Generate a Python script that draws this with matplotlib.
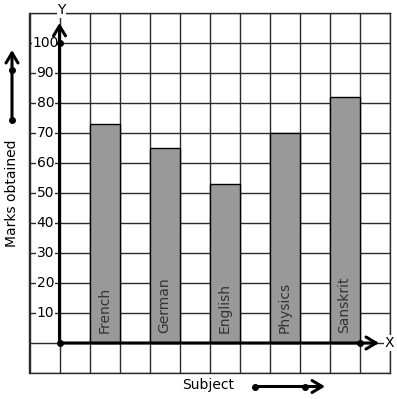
import numpy as np
import matplotlib.pyplot as plt

# data
subjects = ['French', 'German', 'English', 'Physics', 'Sanskrit']
marks = [73, 65, 53, 70, 82]
bar_pos = [1.5, 3.5, 5.5, 7.5, 9.5]
y_ticks = [10, 20, 30, 40, 50, 60, 70, 80, 90, 100]

W, H = 397, 399
ARROW = dict(arrowstyle='->, head_length=0.45, head_width=0.27', lw=2.2, color='black',
             mutation_scale=16, shrinkA=0, shrinkB=0)

fig = plt.figure(figsize=(W / 100, H / 100), dpi=100)
ax = fig.add_axes([29.5 / W, 26 / H, 360 / W, 360 / H])
ax.set_xlim(-1, 11)
ax.set_ylim(-10, 110)

# grid
ax.set_xticks(np.arange(-1, 12, 1))
ax.set_yticks(np.arange(-10, 111, 10))
ax.grid(True, color='#2a2a2a', linewidth=1)
ax.tick_params(length=0, labelbottom=False, labelleft=False)
for s in ax.spines.values():
    s.set_color('#2a2a2a')
    s.set_linewidth(1)
ax.set_axisbelow(True)

# bars
ax.bar(bar_pos, marks, width=1, color='#999999', edgecolor='black', linewidth=1, zorder=2)
for x, name in zip(bar_pos, subjects):
    ax.text(x, 3.2, name, rotation=90, ha='center', va='bottom', fontsize=10,
            color='#333333', zorder=3)

# y tick labels
for v in y_ticks:
    ax.text(-0.47, v, str(v), ha='center', va='center', fontsize=10, zorder=3,
            bbox=dict(facecolor='white', edgecolor='none', pad=0.5))

# axes with arrows
ax.annotate('', xy=(0, 106.7), xytext=(0, 0), arrowprops=ARROW, zorder=4)
ax.annotate('', xy=(10.65, 0), xytext=(0, 0), arrowprops=ARROW, zorder=4)
ax.plot([0, 0, 10], [0, 100, 0], 'o', color='black', markersize=4, zorder=5, clip_on=False)
ax.text(0.07, 111, 'Y', ha='center', va='center', fontsize=10, clip_on=False, zorder=5,
        bbox=dict(facecolor='white', edgecolor='none', pad=0.5))
ax.text(11.0, 0, 'X', ha='center', va='center', fontsize=10, clip_on=False, zorder=5,
        bbox=dict(facecolor='white', edgecolor='none', pad=0.5))

# outside labels and arrows
fig.text(12 / W, 1 - 193 / H, 'Marks obtained', rotation=90, ha='center', va='center', fontsize=10)
fig.text(208 / W, 1 - 385 / H, 'Subject', ha='center', va='center', fontsize=10)

ax.annotate('', xy=(12, H - 50), xytext=(12, H - 120), xycoords='figure pixels',
            textcoords='figure pixels', arrowprops=ARROW)
fig.lines.append(plt.Line2D([12 / W, 12 / W], [1 - 120 / H, 1 - 70 / H], marker='o', linestyle='none',
                            color='black', markersize=4, transform=fig.transFigure))
ax.annotate('', xy=(325, H - 386.5), xytext=(255, H - 386.5), xycoords='figure pixels',
            textcoords='figure pixels', arrowprops=ARROW)
fig.lines.append(plt.Line2D([255 / W, 305 / W], [1 - 386.5 / H, 1 - 386.5 / H], marker='o',
                            linestyle='none', color='black', markersize=4, transform=fig.transFigure))

fig.savefig('out.png', dpi=100)
